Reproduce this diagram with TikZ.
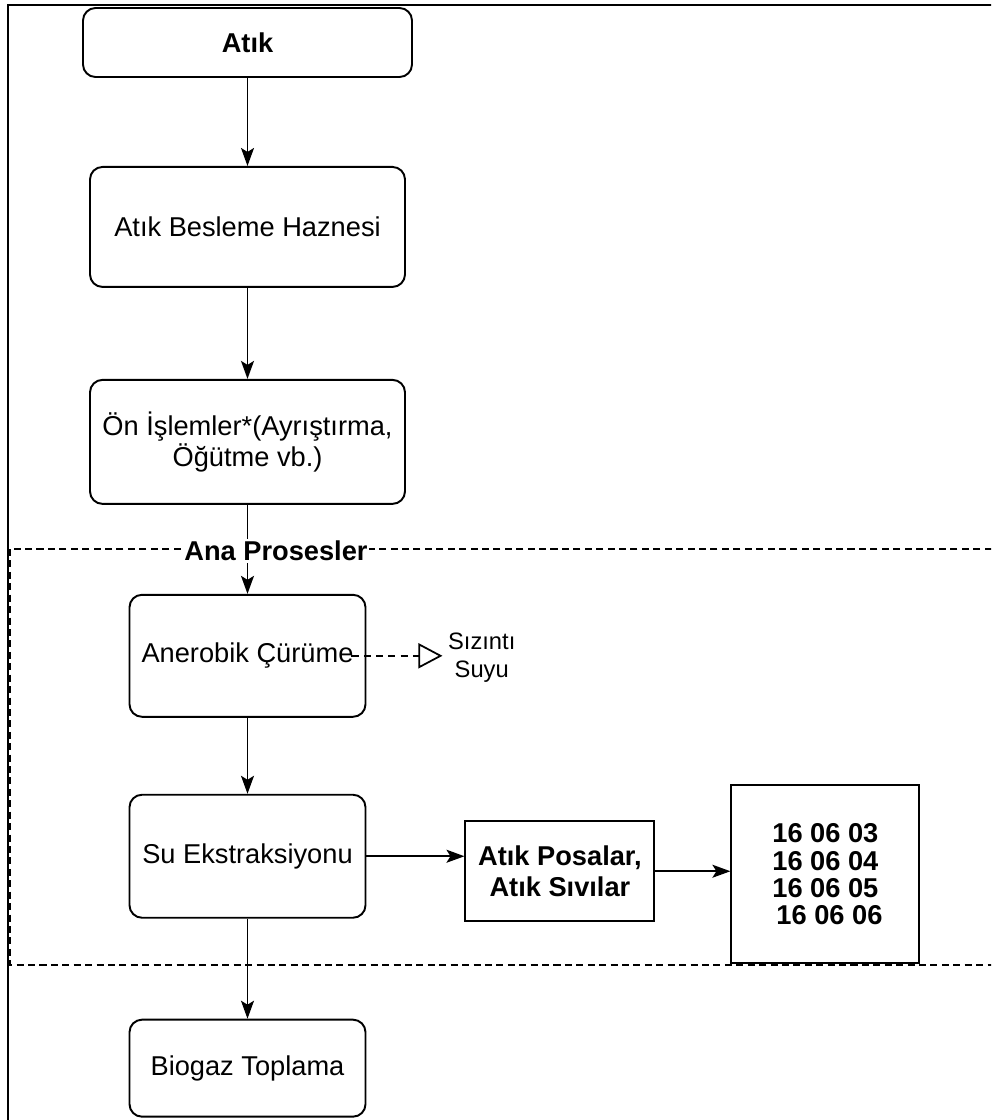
\documentclass[tikz,border=0pt]{standalone}
\usepackage{fontspec}
\setmainfont{Liberation Sans}
\usetikzlibrary{arrows.meta,positioning,calc}
\tikzset{
  adim/.style={draw, rounded corners=0.25cm, line width=1.1pt, align=center,
               font=\fontsize{15.5}{18}\selectfont, inner sep=2pt},
  kutu/.style={draw, line width=1.1pt, align=center,
               font=\bfseries\fontsize{15.5}{17.5}\selectfont, inner sep=2pt},
  ok/.style={-{Stealth[length=0.36cm,width=0.26cm,inset=0.08cm]}, line width=1pt},
  sizma/.style={-{Triangle[open,length=0.48cm,width=0.5cm]}, line width=1pt,
                dash pattern=on 4pt off 3pt},
  bolge/.style={line width=1.1pt, dash pattern=on 4pt off 2.5pt}
}
\begin{document}
\begin{tikzpicture}
  \useasboundingbox (0,0) rectangle (19.82,-22.4);
  \clip (0,0) rectangle (19.82,-22.4);
  % cerceve ve ana prosesler bolgesi
  \draw[line width=1pt] (0.16,-22.6) |- (20,-0.1);
  \draw[bolge] (0.2,-10.98) rectangle (20.2,-19.3);

  \node[adim, font=\bfseries\fontsize{15.5}{18}\selectfont,
        minimum width=6.58cm, minimum height=1.38cm] (atik) at (4.95,-0.85) {Atık};
  \node[adim, minimum width=6.3cm, minimum height=2.4cm, below=1.76cm of atik] (hazne) {Atık Besleme Haznesi};
  \node[adim, minimum width=6.3cm, minimum height=2.48cm, below=1.82cm of hazne] (onislem) {Ön İşlemler*(Ayrıştırma,\\Öğütme vb.)};
  \node[adim, minimum width=4.72cm, minimum height=2.44cm, below=1.78cm of onislem] (curume) {Anerobik Çürüme};
  \node[adim, minimum width=4.72cm, minimum height=2.46cm, below=1.52cm of curume] (su) {Su Ekstraksiyonu};
  \node[adim, minimum width=4.72cm, minimum height=1.94cm, below=2.0cm of su] (biogaz) {Biogaz Toplama};
  \node[kutu, minimum width=3.78cm, minimum height=2cm, right=1.96cm of su, yshift=-0.3cm] (posa) {Atık Posalar,\\Atık Sıvılar};
  \node[kutu, minimum width=3.76cm, minimum height=3.56cm, right=1.5cm of posa, yshift=-0.06cm,
        font=\bfseries\fontsize{15.5}{15.5}\selectfont] (kod) {16 06 03\\16 06 04\\16 06 05\\\hspace*{0.3em}16 06 06};
  \node[align=center, inner sep=3pt, font=\fontsize{13.5}{16}\selectfont,
        right=1.52cm of curume, yshift=-0.04cm] (sizinti) {Sızıntı\\Suyu};

  \draw[ok] (atik) -- (hazne);
  \draw[ok] (hazne) -- (onislem);
  \draw[ok] (onislem) -- (curume);
  \draw[ok] (curume) -- (su);
  \draw[ok] (su) -- (biogaz);
  \draw[ok] (su.east) -- (su.east -| posa.west);
  \draw[ok] (posa) -- (posa -| kod.west);
  \draw[sizma] ([xshift=-0.3cm]curume.east) -- (curume.east -| sizinti.west);

  \node[fill=white, inner sep=1pt, font=\bfseries\fontsize{15.5}{18}\selectfont] (ana) at (5.52,-11.02) {Ana Prosesler};
\end{tikzpicture}
\end{document}
